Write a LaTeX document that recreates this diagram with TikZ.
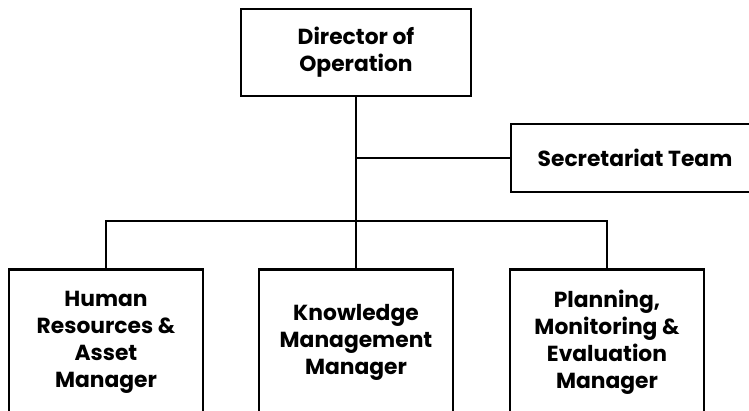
\documentclass[tikz,border=0pt]{standalone}
\usepackage{fontspec}
\setmainfont{Poppins}
\begin{document}
\begin{tikzpicture}[x=1pt,y=-1pt,
  box/.style={draw=black,line width=2.6pt,fill=white,inner sep=0pt,align=center,
    font=\bfseries\fontsize{21.8}{27.3}\selectfont},
  conn/.style={draw=black,line width=2.2pt}]
\useasboundingbox (0,0) rectangle (749,410);
\clip (0,0) rectangle (749,410);
\node[box,minimum width=230,minimum height=87] (dir) at (356,52.5) {Director of\\Operation};
\node[box,minimum width=248,minimum height=68] (sec) at (635,158) {Secretariat Team};
\node[box,minimum width=194,minimum height=146,anchor=north] (hr) at (106,268) {Human\\Resources \&\\Asset\\Manager};
\node[box,minimum width=194,minimum height=146,anchor=north] (km) at (356,268) {Knowledge\\Management\\Manager};
\node[box,minimum width=194,minimum height=146,anchor=north] (pme) at (607,268) {Planning,\\Monitoring \&\\Evaluation\\Manager};
\coordinate (bus) at (356,221);
\draw[conn] (dir.south) -- (km.north);
\draw[conn] (dir.south |- sec.west) -- (sec.west);
\draw[conn] (hr.north) |- (bus) -| (pme.north);
\end{tikzpicture}
\end{document}
